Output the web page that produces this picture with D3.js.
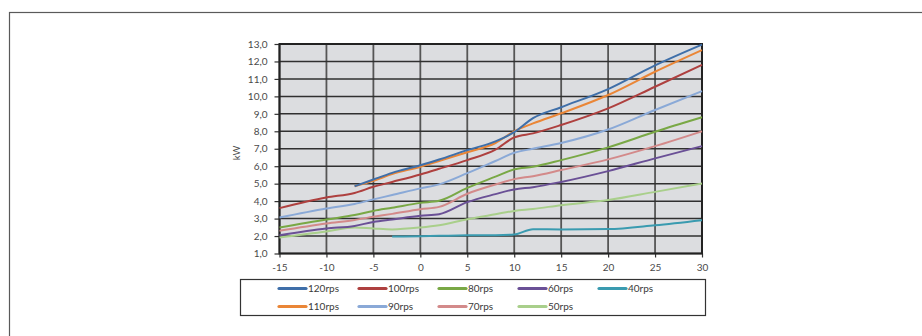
<!DOCTYPE html>
<html>
<head>
<meta charset="utf-8">
<script src="https://cdn.jsdelivr.net/npm/d3@7"></script>
<style>
  html, body { margin: 0; padding: 0; background: #fff; }
  svg { display: block; font-family: Lato, "Open Sans", sans-serif; }
</style>
</head>
<body>
<svg id="chart" width="922" height="336"></svg>
<script>
// Outdoor temperature (°C) at which each compressor-speed curve is sampled
const temps = [-15, -10, -7, -5, -3, 0, 2, 5, 8, 10, 12, 15, 20, 25, 30];

// Heating capacity (kW) per compressor speed; null = not defined at that temperature
const rps120 = [null, null, 4.85, 5.24, 5.62, 6.05, 6.38, 6.92, 7.42, 7.95, 8.75, 9.38, 10.42, 11.78, 12.97];
const rps110 = [null, null, 4.85, 5.16, 5.55, 5.97, 6.30, 6.80, 7.33, 8.00, 8.45, 9.03, 10.08, 11.41, 12.65];
const rps100 = [3.60, 4.21, 4.47, 4.82, 5.10, 5.53, 5.85, 6.35, 6.95, 7.65, 7.88, 8.36, 9.31, 10.55, 11.80];
const rps90  = [3.06, 3.58, 3.84, 4.10, 4.35, 4.73, 4.96, 5.60, 6.30, 6.77, 7.00, 7.33, 8.10, 9.22, 10.30];
const rps80  = [2.49, 2.95, 3.20, 3.44, 3.62, 3.90, 4.02, 4.76, 5.40, 5.82, 5.97, 6.35, 7.08, 7.97, 8.80];
const rps70  = [2.30, 2.72, 2.92, 3.10, 3.27, 3.54, 3.67, 4.42, 4.95, 5.26, 5.43, 5.78, 6.39, 7.15, 8.00];
const rps60  = [2.05, 2.43, 2.58, 2.81, 2.95, 3.16, 3.25, 3.94, 4.40, 4.67, 4.80, 5.10, 5.72, 6.45, 7.15];
const rps50  = [1.92, 2.26, 2.49, 2.43, 2.38, 2.49, 2.62, 2.96, 3.25, 3.44, 3.55, 3.77, 4.06, 4.53, 5.01];
const rps40  = [null, null, null, null, 1.97, 1.99, 2.01, 2.04, 2.05, 2.09, 2.39, 2.38, 2.40, 2.62, 2.91];

const seriesNames = ["120rps", "110rps", "100rps", "90rps", "80rps", "70rps", "60rps", "50rps", "40rps"];
const seriesValues = [rps120, rps110, rps100, rps90, rps80, rps70, rps60, rps50, rps40];
const seriesColors = ["#3f6fa9", "#ea8637", "#ae403f", "#8aa9d7", "#79a845", "#d38a8a", "#6a5096", "#a9cf8b", "#3a9bb0"];

// Legend reads across two rows
const legendOrder = ["120rps", "100rps", "80rps", "60rps", "40rps", "110rps", "90rps", "70rps", "50rps"];

const xTicks = [-15, -10, -5, 0, 5, 10, 15, 20, 25, 30];
const yTicks = [1, 2, 3, 4, 5, 6, 7, 8, 9, 10, 11, 12, 13];

const svg = d3.select("#chart");

// outer frame (continues past the right and bottom edges)
svg.append("rect")
  .attr("x", 9.5).attr("y", 12.5)
  .attr("width", 1000).attr("height", 400)
  .attr("fill", "none").attr("stroke", "#5a5a5a").attr("stroke-width", 1.2);

const plot = { left: 279.5, right: 702, top: 44, bottom: 253.5 };

const x = d3.scaleLinear().domain([-15, 30]).range([plot.left, plot.right]);
const y = d3.scaleLinear().domain([1, 13]).range([plot.bottom, plot.top]);

// plot background
svg.append("rect")
  .attr("x", plot.left).attr("y", plot.top)
  .attr("width", plot.right - plot.left).attr("height", plot.bottom - plot.top)
  .attr("fill", "#dcdde0");

// gridlines
svg.append("g").selectAll("line").data(xTicks).join("line")
  .attr("x1", d => x(d)).attr("x2", d => x(d))
  .attr("y1", plot.top).attr("y2", plot.bottom)
  .attr("stroke", "#555").attr("stroke-width", 1.8);

svg.append("g").selectAll("line").data(yTicks).join("line")
  .attr("x1", plot.left).attr("x2", plot.right)
  .attr("y1", d => y(d)).attr("y2", d => y(d))
  .attr("stroke", "#303030").attr("stroke-width", 1.5);

// axes
const fmt = d => d3.format(".1f")(d).replace(".", ",");

const yAxis = svg.append("g")
  .attr("transform", `translate(${plot.left},0)`)
  .call(d3.axisLeft(y).tickValues(yTicks).tickFormat(fmt).tickSize(5).tickPadding(7));
const xAxis = svg.append("g")
  .attr("transform", `translate(0,${plot.bottom})`)
  .call(d3.axisBottom(x).tickValues(xTicks).tickFormat(d => d).tickSize(4).tickPadding(6));

[yAxis, xAxis].forEach(g => {
  g.select(".domain").remove();
  g.selectAll(".tick line").attr("stroke", "#333").attr("stroke-width", 1.2);
  g.selectAll(".tick text").attr("fill", "#4a4a4a").style("font-size", "10px")
    .style("font-family", "Lato, 'Open Sans', sans-serif");
});

// plot border
svg.append("rect")
  .attr("x", plot.left).attr("y", plot.top)
  .attr("width", plot.right - plot.left).attr("height", plot.bottom - plot.top)
  .attr("fill", "none").attr("stroke", "#222").attr("stroke-width", 2);

// y-axis title
svg.append("text")
  .attr("transform", `translate(240,153) rotate(-90)`)
  .attr("text-anchor", "middle")
  .attr("fill", "#4a4a4a").style("font-size", "9.5px")
  .text("kW");

// curves (drawn low speed first so high speed sits on top)
const line = d3.line()
  .defined(d => d.v != null)
  .x(d => x(d.t)).y(d => y(d.v))
  .curve(d3.curveMonotoneX);

const series = seriesNames.map((name, i) => ({
  name,
  color: seriesColors[i],
  points: temps.map((t, j) => ({ t, v: seriesValues[i][j] }))
}));

svg.append("g").selectAll("path")
  .data(series.slice().reverse())
  .join("path")
  .attr("d", d => line(d.points.filter(p => p.v != null)))
  .attr("fill", "none")
  .attr("stroke", d => d.color)
  .attr("stroke-width", 2)
  .attr("stroke-linejoin", "round");

// legend
svg.append("rect")
  .attr("x", 240.5).attr("y", 279.5)
  .attr("width", 465).attr("height", 36)
  .attr("fill", "#fff").attr("stroke", "#333").attr("stroke-width", 1.2);

const colorOf = Object.fromEntries(series.map(s => [s.name, s.color]));
const legendItems = svg.append("g").selectAll("g")
  .data(legendOrder)
  .join("g")
  .attr("transform", (d, i) => `translate(${279 + (i % 5) * 80},${i < 5 ? 288.5 : 306.5})`);

legendItems.append("line")
  .attr("x1", 0).attr("x2", 27)
  .attr("stroke", d => colorOf[d]).attr("stroke-width", 3.2)
  .attr("stroke-linecap", "round");

legendItems.append("text")
  .attr("x", 29).attr("dy", "0.35em")
  .attr("fill", "#3a3a3a").style("font-size", "10px")
  .text(d => d);
</script>
</body>
</html>
